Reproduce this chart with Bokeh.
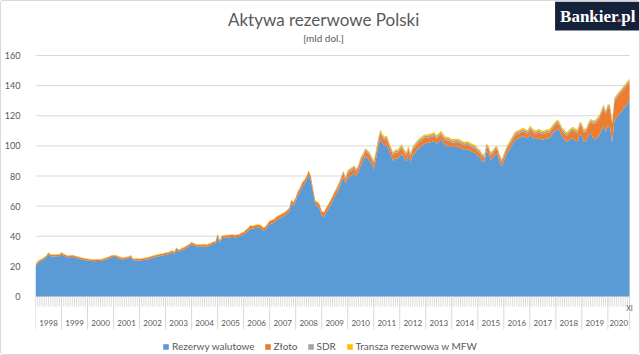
from bokeh.plotting import figure
from bokeh.models import Range1d, FixedTicker, Legend, LegendItem, ColumnDataSource
from bokeh.core.properties import value
from bokeh.embed import file_html
from bokeh.resources import INLINE

# ---------------- data (mld USD, monthly I.1998 - XI.2020) ----------------
years = ["1998", "1999", "2000", "2001", "2002", "2003", "2004", "2005", "2006", "2007", "2008",
         "2009", "2010", "2011", "2012", "2013", "2014", "2015", "2016", "2017", "2018", "2019", "2020"]
last_month_label = "XI"
y_ticks = [0, 20, 40, 60, 80, 100, 120, 140, 160]

rezerwy_walutowe = [
    20.1, 22.1, 23.1, 23.9, 24.8, 26.1, 27.9, 26.8, 26.6, 26.6, 26.8, 26.8,   # 1998
    28.1, 27.1, 26.4, 25.9, 26.1, 26.4, 25.9, 25.5, 25.1, 24.7, 24.4, 24.0,   # 1999
    23.9, 23.6, 23.5, 23.4, 23.5, 23.5, 23.5, 23.8, 24.4, 24.8, 25.4, 26.0,   # 2000
    26.4, 26.2, 25.6, 25.1, 24.6, 24.8, 25.0, 25.4, 26.1, 24.0, 23.9, 24.1,   # 2001
    23.8, 24.0, 24.3, 24.5, 24.8, 25.3, 25.8, 26.1, 26.5, 26.8, 27.1, 27.4,   # 2002
    27.6, 27.9, 28.4, 29.2, 28.4, 31.0, 29.7, 30.2, 31.0, 31.6, 32.6, 33.4,   # 2003
    34.7, 33.8, 33.3, 32.9, 33.1, 33.1, 33.3, 33.0, 33.5, 34.1, 34.8, 35.1,   # 2004
    40.1, 35.7, 38.7, 39.0, 39.2, 39.2, 39.4, 39.6, 39.2, 39.5, 39.7, 40.7,   # 2005
    40.8, 42.3, 43.3, 45.2, 44.8, 45.3, 45.6, 45.6, 45.3, 43.8, 44.3, 46.3,   # 2006
    48.0, 48.5, 49.0, 50.5, 51.5, 52.0, 53.0, 53.7, 55.0, 56.5, 61.8, 60.3,   # 2007
    63.1, 67.1, 69.6, 73.1, 74.6, 77.1, 80.8, 77.1, 69.1, 61.1, 60.1, 58.6,   # 2008
    53.6, 52.8, 55.6, 58.1, 60.6, 63.6, 66.6, 68.3, 71.3, 75.3, 79.0, 74.8,   # 2009
    78.6, 79.6, 80.6, 81.6, 79.6, 82.6, 87.2, 89.6, 93.1, 92.1, 90.6, 88.1,   # 2010
    84.3, 90.9, 98.6, 104.8, 101.9, 99.9, 100.9, 96.9, 93.1, 89.9, 91.9, 91.4,  # 2011
    93.3, 94.8, 91.8, 89.8, 93.8, 89.3, 93.8, 95.3, 97.4, 98.8, 99.8, 101.1,  # 2012
    101.8, 102.1, 102.3, 102.8, 103.3, 101.3, 102.8, 104.3, 102.3, 100.3, 100.3, 99.8,  # 2013
    99.2, 99.2, 99.5, 99.2, 98.7, 97.7, 97.2, 97.7, 97.2, 96.3, 95.7, 95.1,   # 2014
    93.3, 92.3, 89.8, 89.1, 96.6, 94.8, 90.8, 92.3, 94.3, 94.8, 89.8, 86.3,   # 2015
    89.6, 93.6, 96.1, 98.6, 101.1, 103.6, 104.6, 105.1, 105.9, 106.6, 105.6, 105.0,  # 2016
    107.6, 106.1, 104.6, 104.5, 105.4, 104.6, 104.1, 104.6, 105.1, 105.1, 107.1, 109.1,  # 2017
    110.4, 111.4, 108.9, 105.8, 104.2, 102.5, 103.6, 104.7, 104.8, 103.6, 102.9, 107.7,  # 2018
    106.5, 102.5, 103.3, 106.6, 108.7, 105.7, 104.2, 105.2, 106.7, 110.2, 113.2, 109.2,  # 2019
    113.2, 112.2, 102.2, 116.7, 118.7, 120.7, 122.2, 124.2, 125.9, 128.2, 129.9,        # 2020
]

zloto = [
    1.0, 1.0, 1.0, 1.0, 1.0, 1.0, 1.0, 1.0, 1.0, 1.0, 1.0, 1.0,   # 1998
    1.0, 1.0, 1.0, 1.0, 1.0, 1.0, 1.0, 1.0, 1.0, 1.0, 1.0, 1.0,   # 1999
    1.0, 1.0, 1.0, 1.0, 1.0, 1.0, 1.0, 1.0, 1.0, 1.0, 1.0, 1.0,   # 2000
    1.0, 1.0, 1.0, 1.0, 1.0, 1.0, 1.0, 1.0, 1.0, 1.0, 1.0, 1.0,   # 2001
    1.1, 1.1, 1.1, 1.1, 1.1, 1.1, 1.1, 1.1, 1.1, 1.1, 1.1, 1.1,   # 2002
    1.2, 1.2, 1.2, 1.2, 1.2, 1.2, 1.2, 1.2, 1.2, 1.2, 1.2, 1.2,   # 2003
    1.3, 1.3, 1.3, 1.3, 1.3, 1.3, 1.3, 1.3, 1.3, 1.3, 1.3, 1.3,   # 2004
    1.4, 1.4, 1.4, 1.4, 1.4, 1.4, 1.4, 1.4, 1.4, 1.4, 1.4, 1.4,   # 2005
    1.8, 1.8, 1.8, 1.8, 1.8, 1.8, 1.8, 1.8, 1.8, 1.8, 1.8, 1.8,   # 2006
    2.1, 2.1, 2.1, 2.1, 2.1, 2.1, 2.1, 2.1, 2.1, 2.1, 2.1, 2.1,   # 2007
    2.5, 2.5, 2.5, 2.5, 2.5, 2.5, 2.5, 2.5, 2.5, 2.5, 2.5, 2.5,   # 2008
    2.8, 2.8, 2.8, 2.8, 2.8, 2.8, 2.8, 2.8, 2.8, 2.8, 2.8, 2.8,   # 2009
    3.3, 3.3, 3.3, 3.3, 3.3, 3.3, 3.3, 3.3, 3.3, 3.3, 3.3, 3.3,   # 2010
    3.8, 3.8, 3.8, 3.8, 3.8, 3.8, 3.8, 3.8, 3.8, 3.8, 3.8, 3.8,   # 2011
    3.9, 3.9, 3.9, 3.9, 3.9, 3.9, 3.9, 3.9, 3.9, 3.9, 3.9, 3.9,   # 2012
    3.4, 3.4, 3.4, 3.4, 3.4, 3.4, 3.4, 3.4, 3.4, 3.4, 3.4, 3.4,   # 2013
    3.0, 3.0, 3.0, 3.0, 3.0, 3.0, 3.0, 3.0, 3.0, 3.0, 3.0, 3.0,   # 2014
    2.9, 2.9, 2.9, 2.9, 2.9, 2.9, 2.9, 2.9, 2.9, 2.9, 2.9, 2.9,   # 2015
    3.1, 3.1, 3.1, 3.1, 3.1, 3.1, 3.1, 3.1, 3.1, 3.1, 3.1, 3.1,   # 2016
    3.6, 3.6, 3.6, 3.6, 3.6, 3.6, 3.6, 3.6, 3.6, 3.6, 3.6, 3.6,   # 2017
    3.8, 3.8, 3.8, 3.9, 4.0, 4.2, 4.6, 5.0, 5.4, 5.6, 5.8, 6.0,   # 2018
    6.2, 6.2, 6.4, 6.6, 7.0, 9.0, 10.5, 11.0, 11.5, 11.5, 12.0, 12.0,  # 2019
    12.5, 12.5, 12.5, 13.0, 13.0, 13.0, 13.0, 13.0, 12.8, 12.5, 12.3,       # 2020
]

sdr = [
    0.1, 0.1, 0.1, 0.1, 0.1, 0.1, 0.1, 0.1, 0.1, 0.1, 0.1, 0.1,   # 1998
    0.1, 0.1, 0.1, 0.1, 0.1, 0.1, 0.1, 0.1, 0.1, 0.1, 0.1, 0.1,   # 1999
    0.1, 0.1, 0.1, 0.1, 0.1, 0.1, 0.1, 0.1, 0.1, 0.1, 0.1, 0.1,   # 2000
    0.1, 0.1, 0.1, 0.1, 0.1, 0.1, 0.1, 0.1, 0.1, 0.1, 0.1, 0.1,   # 2001
    0.1, 0.1, 0.1, 0.1, 0.1, 0.1, 0.1, 0.1, 0.1, 0.1, 0.1, 0.1,   # 2002
    0.1, 0.1, 0.1, 0.1, 0.1, 0.1, 0.1, 0.1, 0.1, 0.1, 0.1, 0.1,   # 2003
    0.1, 0.1, 0.1, 0.1, 0.1, 0.1, 0.1, 0.1, 0.1, 0.1, 0.1, 0.1,   # 2004
    0.1, 0.1, 0.1, 0.1, 0.1, 0.1, 0.1, 0.1, 0.1, 0.1, 0.1, 0.1,   # 2005
    0.1, 0.1, 0.1, 0.1, 0.1, 0.1, 0.1, 0.1, 0.1, 0.1, 0.1, 0.1,   # 2006
    0.1, 0.1, 0.1, 0.1, 0.1, 0.1, 0.1, 0.1, 0.1, 0.1, 0.1, 0.1,   # 2007
    0.1, 0.1, 0.1, 0.1, 0.1, 0.1, 0.1, 0.1, 0.1, 0.1, 0.1, 0.1,   # 2008
    0.1, 0.1, 0.1, 0.1, 0.1, 0.1, 0.1, 1.4, 1.4, 1.4, 1.4, 1.4,   # 2009
    1.4, 1.4, 1.4, 1.4, 1.4, 1.4, 1.4, 1.4, 1.4, 1.4, 1.4, 1.4,   # 2010
    1.4, 1.4, 1.4, 1.4, 1.4, 1.4, 1.4, 1.4, 1.4, 1.4, 1.4, 1.4,   # 2011
    1.4, 1.4, 1.4, 1.4, 1.4, 1.4, 1.4, 1.4, 1.4, 1.4, 1.4, 1.4,   # 2012
    1.4, 1.4, 1.4, 1.4, 1.4, 1.4, 1.4, 1.4, 1.4, 1.4, 1.4, 1.4,   # 2013
    1.4, 1.4, 1.4, 1.4, 1.4, 1.4, 1.4, 1.4, 1.4, 1.4, 1.4, 1.4,   # 2014
    1.4, 1.4, 1.4, 1.4, 1.4, 1.4, 1.4, 1.4, 1.4, 1.4, 1.4, 1.4,   # 2015
    1.4, 1.4, 1.4, 1.4, 1.4, 1.4, 1.4, 1.4, 1.4, 1.4, 1.4, 1.4,   # 2016
    1.4, 1.4, 1.4, 1.4, 1.4, 1.4, 1.4, 1.4, 1.4, 1.4, 1.4, 1.4,   # 2017
    1.4, 1.4, 1.4, 1.4, 1.4, 1.4, 1.4, 1.4, 1.4, 1.4, 1.4, 1.4,   # 2018
    1.4, 1.4, 1.4, 1.4, 1.4, 1.4, 1.4, 1.4, 1.4, 1.4, 1.4, 1.4,   # 2019
    1.4, 1.4, 1.4, 1.4, 1.4, 1.4, 1.4, 1.4, 1.4, 1.4, 1.4,        # 2020
]

transza_mfw = [
    0.3, 0.3, 0.3, 0.3, 0.3, 0.3, 0.3, 0.3, 0.3, 0.3, 0.3, 0.3,   # 1998
    0.3, 0.3, 0.3, 0.3, 0.3, 0.3, 0.3, 0.3, 0.3, 0.3, 0.3, 0.3,   # 1999
    0.3, 0.3, 0.3, 0.3, 0.3, 0.3, 0.3, 0.3, 0.3, 0.3, 0.3, 0.3,   # 2000
    0.3, 0.3, 0.3, 0.3, 0.3, 0.3, 0.3, 0.3, 0.3, 0.3, 0.3, 0.3,   # 2001
    0.3, 0.3, 0.3, 0.3, 0.3, 0.3, 0.3, 0.3, 0.3, 0.3, 0.3, 0.3,   # 2002
    0.3, 0.3, 0.3, 0.3, 0.3, 0.3, 0.3, 0.3, 0.3, 0.3, 0.3, 0.3,   # 2003
    0.3, 0.3, 0.3, 0.3, 0.3, 0.3, 0.3, 0.3, 0.3, 0.3, 0.3, 0.3,   # 2004
    0.3, 0.3, 0.3, 0.3, 0.3, 0.3, 0.3, 0.3, 0.3, 0.3, 0.3, 0.3,   # 2005
    0.3, 0.3, 0.3, 0.3, 0.3, 0.3, 0.3, 0.3, 0.3, 0.3, 0.3, 0.3,   # 2006
    0.3, 0.3, 0.3, 0.3, 0.3, 0.3, 0.3, 0.3, 0.3, 0.3, 0.3, 0.3,   # 2007
    0.3, 0.3, 0.3, 0.3, 0.3, 0.3, 0.3, 0.3, 0.3, 0.3, 0.3, 0.3,   # 2008
    0.5, 0.5, 0.5, 0.5, 0.5, 0.5, 0.5, 0.5, 0.5, 0.5, 0.5, 0.5,   # 2009
    0.7, 0.7, 0.7, 0.7, 0.7, 0.7, 0.7, 0.7, 0.7, 0.7, 0.7, 0.7,   # 2010
    0.9, 0.9, 0.9, 0.9, 0.9, 0.9, 0.9, 0.9, 0.9, 0.9, 0.9, 0.9,   # 2011
    0.9, 0.9, 0.9, 0.9, 0.9, 0.9, 0.9, 0.9, 0.9, 0.9, 0.9, 0.9,   # 2012
    0.9, 0.9, 0.9, 0.9, 0.9, 0.9, 0.9, 0.9, 0.9, 0.9, 0.9, 0.9,   # 2013
    0.9, 0.9, 0.9, 0.9, 0.9, 0.9, 0.9, 0.9, 0.9, 0.9, 0.9, 0.9,   # 2014
    0.9, 0.9, 0.9, 0.9, 0.9, 0.9, 0.9, 0.9, 0.9, 0.9, 0.9, 0.9,   # 2015
    0.9, 0.9, 0.9, 0.9, 0.9, 0.9, 0.9, 0.9, 0.9, 0.9, 0.9, 0.9,   # 2016
    0.9, 0.9, 0.9, 0.9, 0.9, 0.9, 0.9, 0.9, 0.9, 0.9, 0.9, 0.9,   # 2017
    0.9, 0.9, 0.9, 0.9, 0.9, 0.9, 0.9, 0.9, 0.9, 0.9, 0.9, 0.9,   # 2018
    0.9, 0.9, 0.9, 0.9, 0.9, 0.9, 0.9, 0.9, 0.9, 0.9, 0.9, 0.9,   # 2019
    0.9, 0.9, 0.9, 0.9, 0.9, 0.9, 0.9, 0.9, 0.9, 0.9, 0.9,        # 2020
]

series_names = ["Rezerwy walutowe", "Złoto", "SDR", "Transza rezerwowa w MFW"]
series_colors = ["#5B9BD5", "#ED7D31", "#A5A5A5", "#FFC000"]

# ---------------- layout geometry (canvas pixels) ----------------
FONT = "Lato"
GREY_TXT = "#595959"
n = len(rezerwy_walutowe)
months = list(range(n))

W, H = 640, 355
FRAME_L, FRAME_B = 30, 352          # frame: x 30..640, y 0..352
PLOT_R = 628                        # last month sits here
Y0_PX, Y160_PX = 295, 54            # canvas y of value 0 and 160
px_x = (PLOT_R - FRAME_L) / (n - 1)
px_y = (Y0_PX - Y160_PX) / 160.0
x_end = (n - 1) + (W - PLOT_R) / px_x
y_top = 160 + Y160_PX / px_y
y_bot = -(FRAME_B - Y0_PX) / px_y


def cx(px):
    return (px - FRAME_L) / px_x


def cy(py):
    return (Y0_PX - py) / px_y


p = figure(width=W, height=H, output_backend="svg", toolbar_location=None,
           x_range=Range1d(0, x_end), y_range=Range1d(y_bot, y_top),
           x_axis_location=None, min_border_left=FRAME_L, min_border_right=0,
           min_border_top=0, min_border_bottom=H - FRAME_B)
p.outline_line_color = None
p.background_fill_color = "white"
p.border_fill_color = "white"
p.xgrid.grid_line_color = None
p.ygrid.grid_line_color = None
p.styles = {"border": "1px solid #D9D9D9", "box-sizing": "border-box", "border-radius": "3px"}

# y axis (real axis, left of frame)
p.yaxis.ticker = FixedTicker(ticks=y_ticks)
p.yaxis.axis_line_color = None
p.yaxis.major_tick_line_color = None
p.yaxis.minor_tick_line_color = None
p.yaxis.major_label_text_font = FONT
p.yaxis.major_label_text_font_size = "9px"
p.yaxis.major_label_text_color = GREY_TXT
p.yaxis.major_label_standoff = 9

# horizontal gridlines only across the data span
p.segment(x0=[0] * len(y_ticks), y0=y_ticks, x1=[n - 1] * len(y_ticks), y1=y_ticks,
          line_color="#D9D9D9", line_width=1)

src = ColumnDataSource(dict(x=months, r=rezerwy_walutowe, z=zloto, s=sdr, t=transza_mfw))
rends = p.varea_stack(["r", "z", "s", "t"], x="x", color=series_colors, source=src)

# category axis below zero: month ticks, year separators, year labels
p.segment(x0=months, y0=[0] * n, x1=months, y1=[cy(305)] * n, line_color="#DCDCDC", line_width=1)
year_edges = [12 * k for k in range(len(years))] + [n - 1]
p.segment(x0=year_edges, y0=[0] * len(year_edges), x1=year_edges, y1=[cy(328)] * len(year_edges),
          line_color="#D9D9D9", line_width=1)
year_centers = [(year_edges[k] + year_edges[k + 1]) / 2 for k in range(len(years))]
p.text(x=year_centers, y=[cy(321)] * len(years), text=years, text_font=value(FONT),
       text_font_size="8px", text_color=GREY_TXT, text_align="center", text_baseline="middle")
p.text(x=[n - 1], y=[cy(306)], text=[last_month_label], text_font=value(FONT),
       text_font_size="7px", text_color=GREY_TXT, text_align="center", text_baseline="middle")

# legend
legend = Legend(items=[LegendItem(label=nm, renderers=[r]) for nm, r in zip(series_names, rends)],
                orientation="horizontal", location=(157 - FRAME_L, 1),
                border_line_color=None, background_fill_alpha=0,
                label_text_font=FONT, label_text_font_size="10px", label_text_color=GREY_TXT,
                glyph_width=7, glyph_height=7, label_standoff=3, spacing=9,
                padding=2, margin=0)
p.add_layout(legend)

# titles
p.text(x=[cx(320)], y=[cy(18)], text=["Aktywa rezerwowe Polski"], text_font=value(FONT),
       text_font_size="17px", text_color=GREY_TXT, text_align="center", text_baseline="middle")
p.text(x=[cx(320)], y=[cy(36)], text=["[mld dol.]"], text_font=value(FONT),
       text_font_size="10px", text_color=GREY_TXT, text_align="center", text_baseline="middle")

# logo
p.quad(left=[cx(553)], right=[cx(640)], top=[cy(0)], bottom=[cy(29)],
       fill_color="#15213B", line_color=None)
p.text(x=[cx(596)], y=[cy(15)], text=["Bankier.pl"], text_font=value("Liberation Serif"),
       text_font_style="bold", text_font_size="17px", text_color="white",
       text_align="center", text_baseline="middle")
p.text(x=[cx(596 - 38.5 + 58.6)], y=[cy(15)], text=["."], text_font=value("Liberation Serif"),
       text_font_style="bold", text_font_size="17px", text_color="#E8412C",
       text_align="left", text_baseline="middle")

open("out.html", "w").write(file_html(p, INLINE))
